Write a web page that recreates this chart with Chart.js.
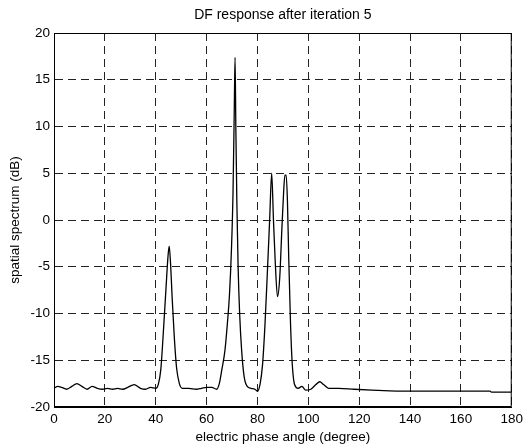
<!DOCTYPE html>
<html lang="en">
<head>
  <meta charset="UTF-8" />
  <title>DF response after iteration 5</title>
  <script src="https://cdn.jsdelivr.net/npm/chart.js"></script>
  <style>
    html, body { margin: 0; padding: 0; background: #fff; }
    #wrap { width: 527px; height: 447px; }
  </style>
</head>
<body>
  <div id="wrap"><canvas id="dfChart" width="527" height="447"></canvas></div>

  <script>
    // electric phase angle (degree)
    const angles = [
      0, 1.5, 3, 5, 7, 9, 11, 13, 15, 17, 19, 21, 23, 25, 27, 29, 31.5, 34, 36, 38,
      40, 41, 42, 43, 44, 44.8, 45.3, 45.8, 46.5, 47.3, 48.2, 49.3, 50.5, 53, 56, 58,
      60, 62, 64, 65, 66, 67.2, 68.2, 69, 69.8, 70.4, 70.9, 71.2, 71.5, 71.9, 72.4,
      73, 73.8, 74.8, 76, 77.5, 79, 80, 81, 82, 83, 84, 84.8, 85.6, 86.3, 87, 87.9,
      88.8, 89.6, 90.3, 90.8, 91.3, 91.8, 92.3, 93, 93.6, 94.6, 96, 97.5, 99, 101,
      103, 104.5, 106, 108, 112, 118, 125, 135, 150, 165, 171.5, 172, 180
    ];
    // spatial spectrum (dB)
    const spectrum = [
      -18.0, -17.8, -17.9, -18.1, -17.8, -17.5, -17.8, -18.1, -17.8, -18.0, -18.1, -18.0, -18.1, -18.0, -18.1, -17.9, -17.6, -18.0, -18.1, -17.9,
      -18.0, -17.6, -16.0, -12.0, -7.5, -4.0, -2.8, -4.5, -8.5, -12.5, -15.8, -17.5, -18.0, -18.0, -18.1, -18.0,
      -17.9, -17.9, -18.1, -17.5, -16.0, -14.0, -11.0, -8.0, -3.0, 3.0, 12.0, 17.4, 10.0, 2.0, -5.0,
      -10.0, -14.0, -16.8, -17.8, -18.0, -18.1, -18.3, -17.6, -15.5, -11.0, -5.0, 0.0, 5.0, 0.0, -4.5, -8.2,
      -6.0, -1.0, 3.0, 4.8, 4.8, 2.0, -4.0, -11.0, -15.0, -17.6, -18.0, -17.8, -18.2, -18.1,
      -17.6, -17.3, -17.6, -18.0, -18.0, -18.1, -18.2, -18.3, -18.3, -18.3, -18.3, -18.4, -18.4
    ];

    const xTicks = [0, 20, 40, 60, 80, 100, 120, 140, 160, 180];
    const yTicks = [-20, -15, -10, -5, 0, 5, 10, 15, 20];

    const points = angles.map((a, i) => ({ x: a, y: spectrum[i] }));

    const font = { family: 'Arial, "Liberation Sans", sans-serif', size: 13.5 };

    // solid frame round the plot, like the matlab box
    const frame = {
      id: 'frame',
      afterDraw(chart) {
        const a = chart.chartArea;
        const ctx = chart.ctx;
        ctx.save();
        ctx.strokeStyle = '#000';
        ctx.lineWidth = 1;
        ctx.strokeRect(a.left + 0.5, a.top + 0.5, a.right - a.left - 1, a.bottom - a.top - 1);
        ctx.restore();
      }
    };

    const ctx = document.getElementById('dfChart').getContext('2d');
    new Chart(ctx, {
      type: 'line',
      data: {
        datasets: [{
          data: points,
          borderColor: '#000',
          borderWidth: 1.3,
          pointRadius: 0,
          fill: false,
          cubicInterpolationMode: 'monotone'
        }]
      },
      options: {
        responsive: false,
        animation: false,
        layout: { padding: { left: 0, right: 15, top: 0, bottom: 0 } },
        plugins: {
          legend: { display: false },
          tooltip: { enabled: false },
          title: {
            display: true,
            text: 'DF response after iteration 5',
            color: '#000',
            font: { family: font.family, size: 14, weight: 'normal' },
            fullSize: false,
            padding: { top: 7, bottom: 9.2 }
          }
        },
        scales: {
          x: {
            type: 'linear',
            min: 0,
            max: 180,
            afterBuildTicks(scale) { scale.ticks = xTicks.map(v => ({ value: v })); },
            afterFit(scale) { scale.height = 40; },
            ticks: { color: '#000', font, padding: 4, maxRotation: 0 },
            grid: { color: '#222', lineWidth: 1, drawTicks: false },
            border: { display: true, color: '#000', width: 1, dash: [8, 5] },
            title: {
              display: true,
              text: 'electric phase angle (degree)',
              color: '#000',
              font,
              padding: { top: 0, bottom: 2 }
            }
          },
          y: {
            min: -20,
            max: 20,
            afterBuildTicks(scale) { scale.ticks = yTicks.map(v => ({ value: v })); },
            afterFit(scale) { scale.width = 54; },
            ticks: { color: '#000', font, padding: 4 },
            grid: { color: '#222', lineWidth: 1, drawTicks: false },
            border: { display: true, color: '#000', width: 1, dash: [8, 5] },
            title: {
              display: true,
              text: 'spatial spectrum (dB)',
              color: '#000',
              font,
              padding: { top: 7, bottom: 0 }
            }
          }
        }
      },
      plugins: [frame]
    });
  </script>
</body>
</html>
